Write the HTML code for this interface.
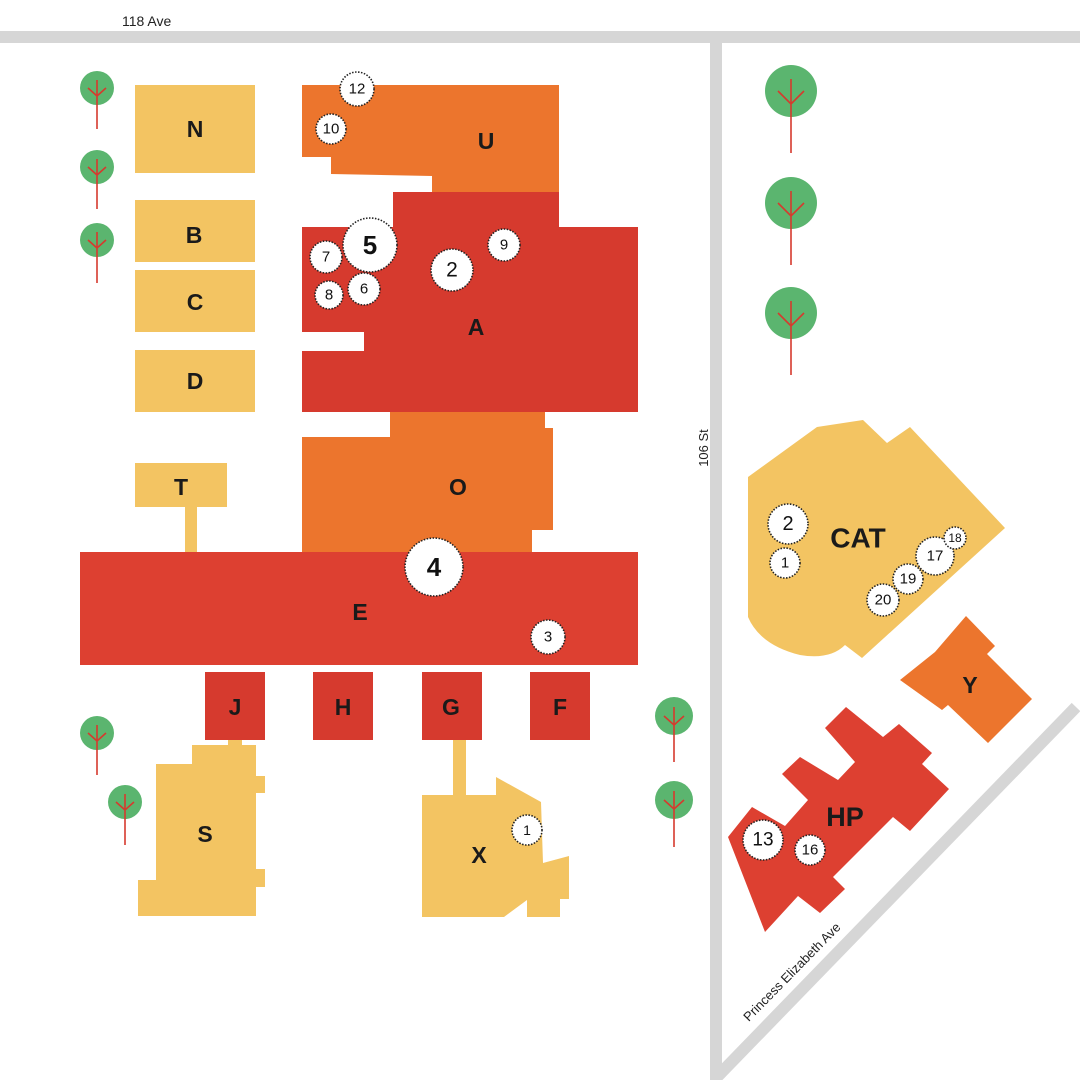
<!DOCTYPE html>
<html><head><meta charset="utf-8"><style>
html,body{margin:0;padding:0;background:#fff}
svg{display:block}
text{font-family:"Liberation Sans",Arial,sans-serif}
.L{font-weight:bold;font-size:23px;fill:#1a1a1a;text-anchor:middle;dominant-baseline:central}
.n{font-size:15px;fill:#111;text-anchor:middle;dominant-baseline:central}
.c{fill:#fff;stroke:#222;stroke-width:1.6;stroke-dasharray:1.5 1.5}
.y{fill:#F3C462}.o{fill:#EC752D}.r{fill:#D63A2E}
</style></head><body>
<svg width="1080" height="1080" viewBox="0 0 1080 1080" xmlns="http://www.w3.org/2000/svg">
<rect width="1080" height="1080" fill="#fff"/>
<!-- roads -->
<rect x="0" y="31" width="1080" height="12" fill="#D6D6D6"/>
<rect x="710" y="31" width="12" height="1049" fill="#D6D6D6"/>
<line x1="1076" y1="707" x2="716" y2="1078" stroke="#D6D6D6" stroke-width="12"/>
<text x="122" y="26" font-size="14" fill="#222">118 Ave</text>
<text transform="translate(708,448) rotate(-90)" font-size="13" fill="#222" text-anchor="middle">106 St</text>
<text transform="translate(795,975) rotate(-45.5)" font-size="13" fill="#222" text-anchor="middle">Princess Elizabeth Ave</text>

<!-- trees -->
<g stroke="#D63A2E" stroke-width="1.6" fill="none">
<g><circle cx="97" cy="88" r="17" fill="#5BB56F" stroke="none"/><path d="M97,80V129M88,88L97,96L106,88"/></g>
<g><circle cx="97" cy="167" r="17" fill="#5BB56F" stroke="none"/><path d="M97,159V209M88,167L97,175L106,167"/></g>
<g><circle cx="97" cy="240" r="17" fill="#5BB56F" stroke="none"/><path d="M97,232V283M88,240L97,248L106,240"/></g>
<g><circle cx="97" cy="733" r="17" fill="#5BB56F" stroke="none"/><path d="M97,725V775M88,733L97,741L106,733"/></g>
<g><circle cx="125" cy="802" r="17" fill="#5BB56F" stroke="none"/><path d="M125,794V845M116,802L125,810L134,802"/></g>
<g><circle cx="674" cy="716" r="19" fill="#5BB56F" stroke="none"/><path d="M674,707V762M664,716L674,725L684,716"/></g>
<g><circle cx="674" cy="800" r="19" fill="#5BB56F" stroke="none"/><path d="M674,791V847M664,800L674,809L684,800"/></g>
<g><circle cx="791" cy="91" r="26" fill="#5BB56F" stroke="none"/><path d="M791,79V153M778,91L791,104L804,91"/></g>
<g><circle cx="791" cy="203" r="26" fill="#5BB56F" stroke="none"/><path d="M791,191V265M778,203L791,216L804,203"/></g>
<g><circle cx="791" cy="313" r="26" fill="#5BB56F" stroke="none"/><path d="M791,301V375M778,313L791,326L804,313"/></g>
</g>

<!-- yellow buildings -->
<rect class="y" x="135" y="85" width="120" height="88"/>
<rect class="y" x="135" y="200" width="120" height="62"/>
<rect class="y" x="135" y="270" width="120" height="62"/>
<rect class="y" x="135" y="350" width="120" height="62"/>
<rect class="y" x="135" y="463" width="92" height="44"/>
<rect class="y" x="185" y="505" width="12" height="50"/>
<rect class="y" x="228" y="738" width="14" height="10"/>
<polygon class="y" points="192,745 256,745 256,776 265,776 265,793 256,793 256,869 265,869 265,887 256,887 256,916 138,916 138,880 156,880 156,764 192,764"/>
<rect class="y" x="453" y="738" width="13" height="60"/>
<polygon class="y" points="422,795 496,795 496,777 541,802 543,863 569,856 569,899 560,899 560,917 527,917 527,900 504,917 422,917"/>
<path class="y" d="M748,477 L817,427 L863,420 L887,443 L910,427 L1005,528 L862,658 L845,645 Q830,660 800,655 Q760,645 748,617 Z"/>

<!-- orange -->
<polygon class="o" points="302,85 559,85 559,193 432,193 432,176 331,174 331,157 302,157"/>
<polygon class="o" points="302,437 390,437 390,410 545,410 545,428 553,428 553,530 532,530 532,553 302,553"/>
<polygon class="o" points="966,616 995,646 987,654 1032,699 988,743 948,705 942,710 900,680 935,652"/>

<!-- red -->
<polygon class="r" points="393,192 559,192 559,227 638,227 638,412 302,412 302,351 364,351 364,332 302,332 302,227 393,227"/>
<rect x="80" y="552" width="558" height="113" fill="#DD4031"/>
<rect class="r" x="205" y="672" width="60" height="68"/>
<rect class="r" x="313" y="672" width="60" height="68"/>
<rect class="r" x="422" y="672" width="60" height="68"/>
<rect class="r" x="530" y="672" width="60" height="68"/>
<polygon fill="#DD4031" points="728,837 752,807 785,826 808,800 782,774 800,757 838,780 855,762 825,728 846,707 883,737 899,724 932,753 922,764 949,789 910,831 893,817 833,877 845,889 820,913 798,896 765,932"/>

<!-- labels -->
<text class="L" x="195" y="129">N</text>
<text class="L" x="194" y="235">B</text>
<text class="L" x="195" y="302">C</text>
<text class="L" x="195" y="381">D</text>
<text class="L" x="181" y="487">T</text>
<text class="L" x="486" y="141">U</text>
<text class="L" x="476" y="327">A</text>
<text class="L" x="458" y="487">O</text>
<text class="L" x="360" y="612">E</text>
<text class="L" x="235" y="707">J</text>
<text class="L" x="343" y="707">H</text>
<text class="L" x="451" y="707">G</text>
<text class="L" x="560" y="707">F</text>
<text class="L" x="205" y="834">S</text>
<text class="L" x="479" y="855">X</text>
<text class="L" x="858" y="538" style="font-size:28px">CAT</text>
<text class="L" x="970" y="685">Y</text>
<text class="L" x="845" y="817" style="font-size:27px">HP</text>

<!-- markers -->
<circle class="c" cx="357" cy="89" r="17"/><text class="n" x="357" y="89">12</text>
<circle class="c" cx="331" cy="129" r="15"/><text class="n" x="331" y="129">10</text>
<circle class="c" cx="326" cy="257" r="16"/><text class="n" x="326" y="257">7</text>
<circle class="c" cx="329" cy="295" r="14"/><text class="n" x="329" y="295">8</text>
<circle class="c" cx="364" cy="289" r="16"/><text class="n" x="364" y="289">6</text>
<circle class="c" cx="370" cy="245" r="27"/><text class="n" x="370" y="245" style="font-size:26px;font-weight:bold">5</text>
<circle class="c" cx="452" cy="270" r="21"/><text class="n" x="452" y="270" style="font-size:21px">2</text>
<circle class="c" cx="504" cy="245" r="16"/><text class="n" x="504" y="245">9</text>
<circle class="c" cx="434" cy="567" r="29"/><text class="n" x="434" y="567" style="font-size:26px;font-weight:bold">4</text>
<circle class="c" cx="548" cy="637" r="17"/><text class="n" x="548" y="637">3</text>
<circle class="c" cx="527" cy="830" r="15"/><text class="n" x="527" y="830" style="font-size:14px">1</text>
<circle class="c" cx="788" cy="524" r="20"/><text class="n" x="788" y="524" style="font-size:20px">2</text>
<circle class="c" cx="785" cy="563" r="15"/><text class="n" x="785" y="563">1</text>
<circle class="c" cx="935" cy="556" r="19"/><text class="n" x="935" y="556">17</text>
<circle class="c" cx="955" cy="538" r="11"/><text class="n" x="955" y="538" style="font-size:12px">18</text>
<circle class="c" cx="908" cy="579" r="15"/><text class="n" x="908" y="579">19</text>
<circle class="c" cx="883" cy="600" r="16"/><text class="n" x="883" y="600">20</text>
<circle class="c" cx="763" cy="840" r="20"/><text class="n" x="763" y="840" style="font-size:19px">13</text>
<circle class="c" cx="810" cy="850" r="15"/><text class="n" x="810" y="850">16</text>
</svg>
</body></html>
